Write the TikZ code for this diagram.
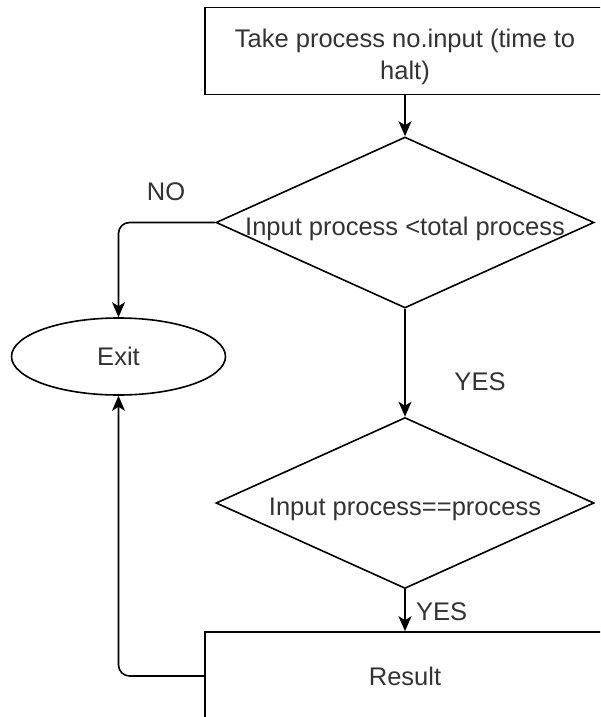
\documentclass[tikz,border=0pt]{standalone}
\usepackage{fontspec}
\setmainfont{Liberation Sans}
\usetikzlibrary{shapes.geometric,arrows.meta}
\begin{document}
\begin{tikzpicture}[x=1pt,y=-1pt,
  every node/.style={font=\fontsize{25.5}{32}\selectfont, text=black!80},
  flowline/.style={line width=1.6pt, -{Stealth[length=15pt,width=13pt,inset=4pt]}, rounded corners=11pt},
  procbox/.style={draw, line width=1.6pt, rectangle, minimum width=400pt, inner sep=0pt, align=center},
  decision/.style={draw, line width=1.6pt, diamond, aspect=2.2, inner sep=0pt,
    minimum width=378pt, minimum height=171pt, text height=25pt, text depth=0pt},
  terminal/.style={draw, line width=1.6pt, ellipse, minimum width=214pt, minimum height=77pt, inner sep=0pt},
  tag/.style={inner sep=0pt}]
  \useasboundingbox (0,0) rectangle (600,717);
  \clip (0,0) rectangle (600,717);
  \fill[white] (0,0) rectangle (600,717);

  % process steps and decisions (the strut lowers the two-line text a little)
  \node[procbox, minimum height=87pt] (take) at (405,51) {\rule{0pt}{29.4pt}Take process no.input (time to\\halt)};
  \node[decision] (cmp) at (405,222.5) {Input process <total process};
  \node[terminal] (exit) at (118.5,356.5) {Exit};
  \node[decision] (eq) at (405,503) {Input process==process};
  \node[procbox, minimum height=88pt] (result) at (405,676) {Result};

  % branch labels
  \node[tag] (no) at (166,192) {NO};
  \node[tag] (yes1) at (480,381.5) {YES};
  \node[tag, anchor=west] (yes2) at (416,612) {YES};

  % connectors
  \draw[flowline] (take) -- (cmp);
  \draw[flowline] (cmp.west) -| (exit.north);
  \draw[flowline] (cmp.south) -- (eq.north);
  \draw[flowline] (eq.south) -- (result.north);
  \draw[flowline] (result.west) -| (exit.south);
\end{tikzpicture}
\end{document}
